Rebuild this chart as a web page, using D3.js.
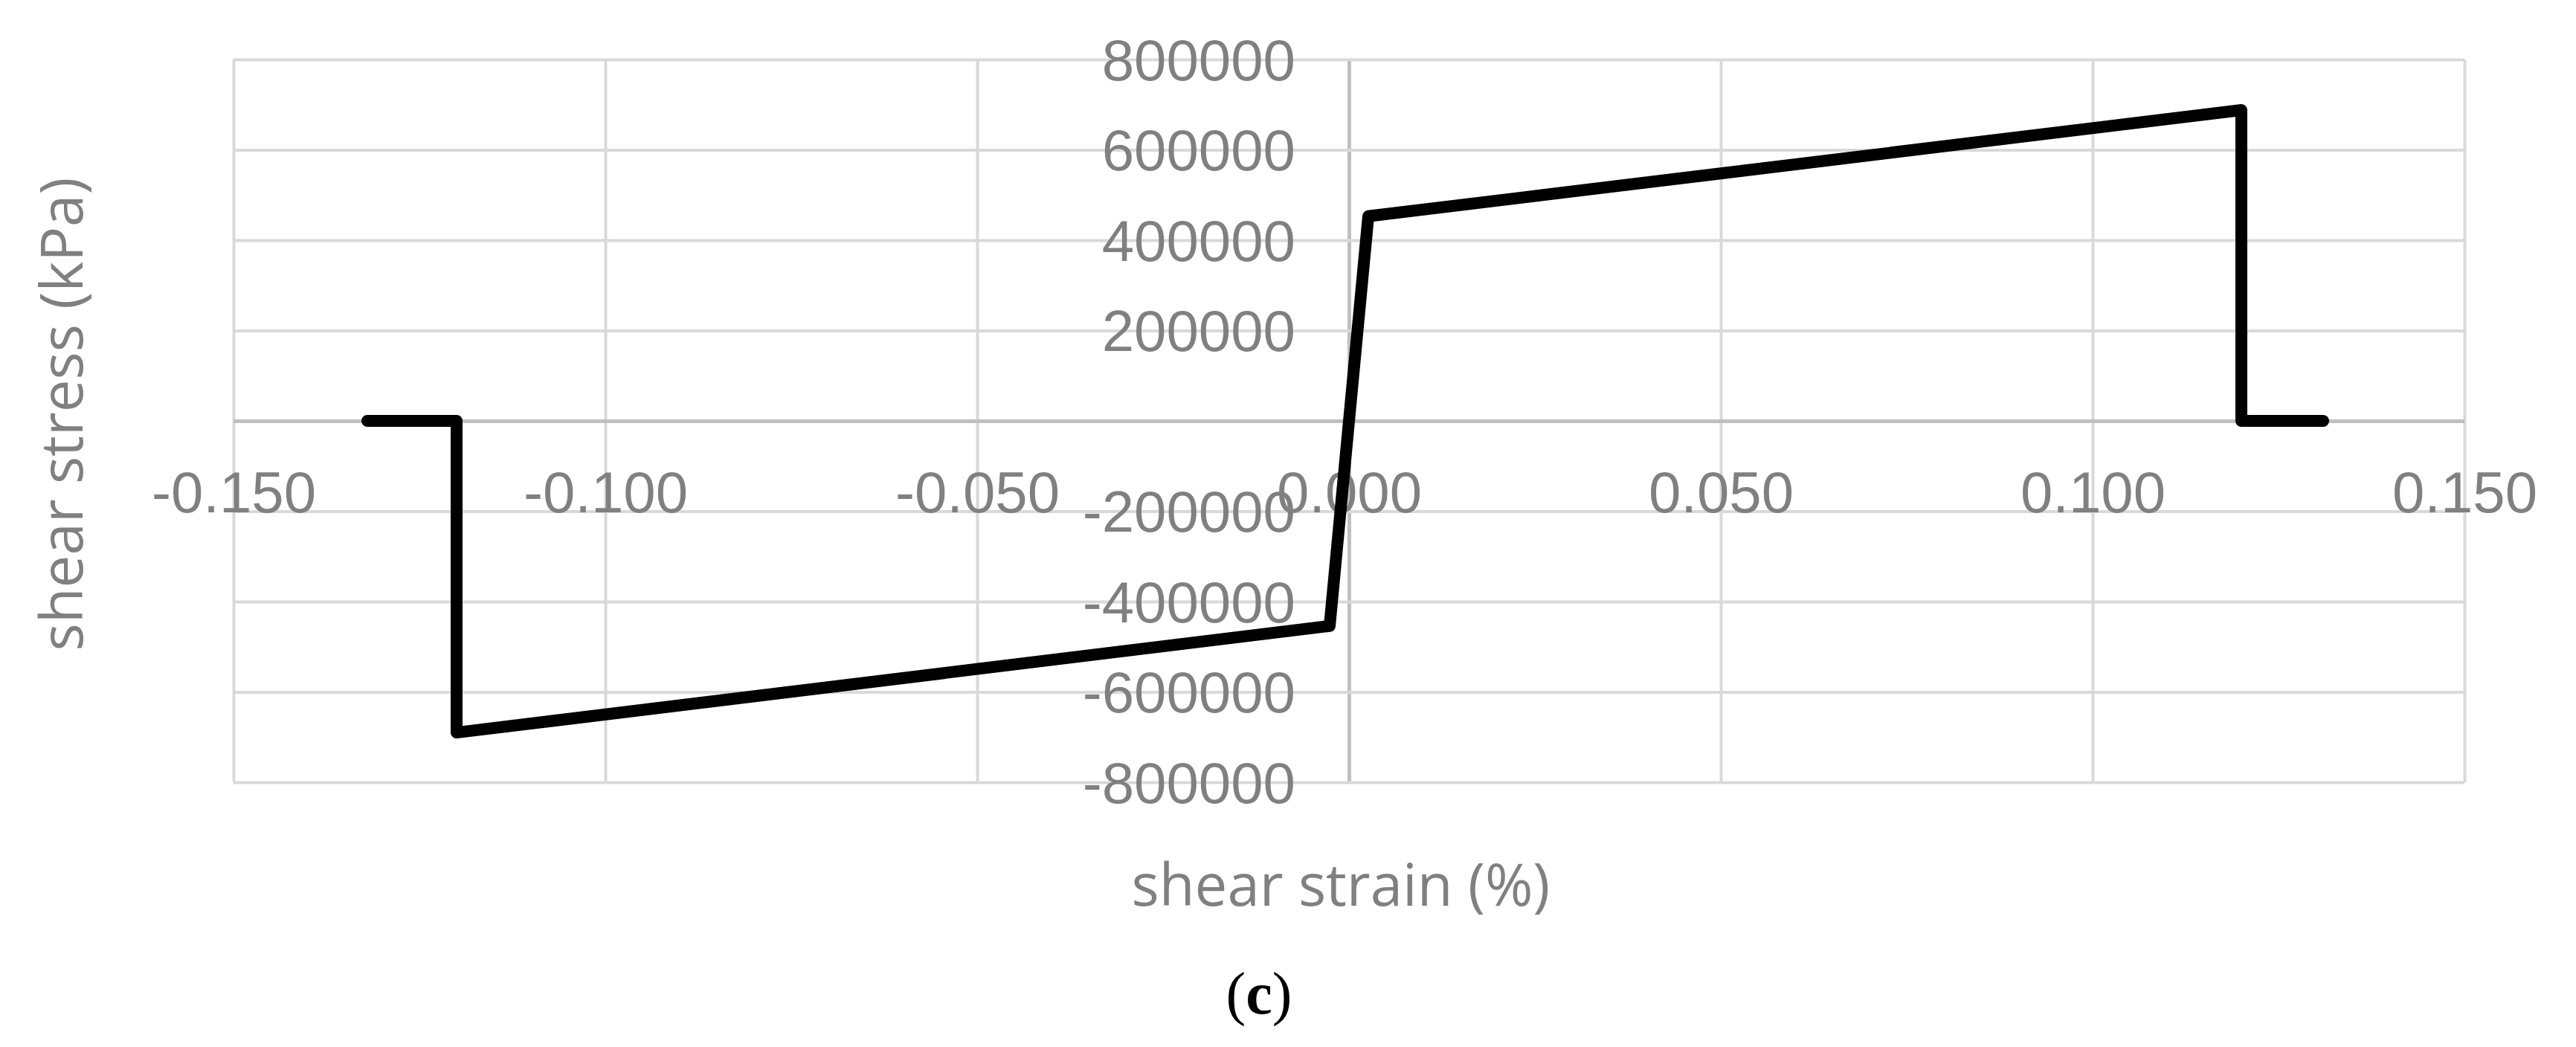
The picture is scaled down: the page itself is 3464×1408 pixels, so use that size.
<!DOCTYPE html>
<html>
<head>
<meta charset="utf-8">
<script src="https://cdn.jsdelivr.net/npm/d3@7"></script>
<style>
  html, body { margin: 0; padding: 0; background: #fff; }
</style>
</head>
<body>
<svg id="chart" width="3464" height="1408"></svg>
<script>
// shear strain (%) vs shear stress (kPa)
const strain = [-0.132, -0.120, -0.120, -0.0026, 0.0026, 0.120, 0.120, 0.131];
const stress = [0, 0, -690000, -454000, 453000, 688000, 0, 0];

const xTicks = [-0.15, -0.1, -0.05, 0, 0.05, 0.1, 0.15];
const xTickLabels = ['-0.150', '-0.100', '-0.050', '0.000', '0.050', '0.100', '0.150'];
const yTicks = [-800000, -600000, -400000, -200000, 0, 200000, 400000, 600000, 800000];
const yTickLabels = ['-800000', '-600000', '-400000', '-200000', '0', '200000', '400000', '600000', '800000'];

const svg = d3.select('#chart');
const plotL = 314, plotR = 3314, plotT = 80, plotB = 1052;

const x = d3.scaleLinear().domain([-0.15, 0.15]).range([plotL, plotR]);
const y = d3.scaleLinear().domain([-800000, 800000]).range([plotB, plotT]);

svg.append('rect').attr('width', 3464).attr('height', 1408).attr('fill', '#fff');

// gridlines
const gx = svg.append('g')
  .attr('transform', `translate(0, ${plotB})`)
  .call(d3.axisBottom(x).tickValues(xTicks).tickSize(-(plotB - plotT)).tickFormat(''));
gx.select('.domain').remove();

const gy = svg.append('g')
  .attr('transform', `translate(${plotL}, 0)`)
  .call(d3.axisLeft(y).tickValues(yTicks).tickSize(-(plotR - plotL)).tickFormat(''));
gy.select('.domain').remove();

[gx, gy].forEach((g) => {
  g.selectAll('.tick line')
    .attr('stroke', (d) => (d === 0 ? '#bfbfbf' : '#d9d9d9'))
    .attr('stroke-width', (d) => (d === 0 ? 5 : 4));
});
// zero lines drawn over the other grid lines
gx.selectAll('.tick').filter((d) => d === 0).raise();
gy.selectAll('.tick').filter((d) => d === 0).raise();

// x tick labels, hung under the zero line
const xa = svg.append('g')
  .attr('transform', `translate(0, ${y(0)})`)
  .call(d3.axisBottom(x).tickValues(xTicks).tickSize(0).tickFormat((d, i) => xTickLabels[i]));
xa.select('.domain').remove();
xa.selectAll('text')
  .attr('y', 123).attr('dy', 0)
  .attr('fill', '#808080')
  .style('font-family', '"Liberation Sans", Arial, sans-serif')
  .style('font-size', '78px');

// y tick labels, next to the zero line
const yTicksShown = yTicks.filter((d) => d !== 0);
const ya = svg.append('g')
  .attr('transform', `translate(${x(0)}, 0)`)
  .call(d3.axisLeft(y).tickValues(yTicksShown).tickSize(0).tickPadding(72)
    .tickFormat((d) => yTickLabels[yTicks.indexOf(d)]));
ya.select('.domain').remove();
ya.selectAll('text')
  .attr('dy', '0.35em')
  .attr('fill', '#808080')
  .style('font-family', '"Liberation Sans", Arial, sans-serif')
  .style('font-size', '78px');

// data line
const points = strain.map((s, i) => [s, stress[i]]);
const line = d3.line().x((d) => x(d[0])).y((d) => y(d[1]));
svg.append('path')
  .datum(points)
  .attr('d', line)
  .attr('fill', 'none')
  .attr('stroke', '#000')
  .attr('stroke-width', 16)
  .attr('stroke-linejoin', 'round')
  .attr('stroke-linecap', 'round');

// axis titles
svg.append('text')
  .attr('transform', 'translate(111, 557) rotate(-90)')
  .attr('text-anchor', 'middle')
  .attr('fill', '#808080')
  .style('font-family', '"Open Sans", sans-serif')
  .style('font-size', '78px')
  .text('shear stress (kPa)');

svg.append('text')
  .attr('x', 1803)
  .attr('y', 1218)
  .attr('text-anchor', 'middle')
  .attr('fill', '#808080')
  .style('font-family', '"Open Sans", sans-serif')
  .style('font-size', '78px')
  .text('shear strain (%)');

// panel label
const cap = svg.append('text')
  .attr('x', 1693)
  .attr('y', 1363)
  .attr('text-anchor', 'middle')
  .attr('fill', '#000')
  .style('font-family', '"Liberation Serif", "Times New Roman", serif')
  .style('font-size', '80px');
cap.append('tspan').text('(');
cap.append('tspan').style('font-weight', 'bold').text('c');
cap.append('tspan').text(')');
</script>
</body>
</html>
